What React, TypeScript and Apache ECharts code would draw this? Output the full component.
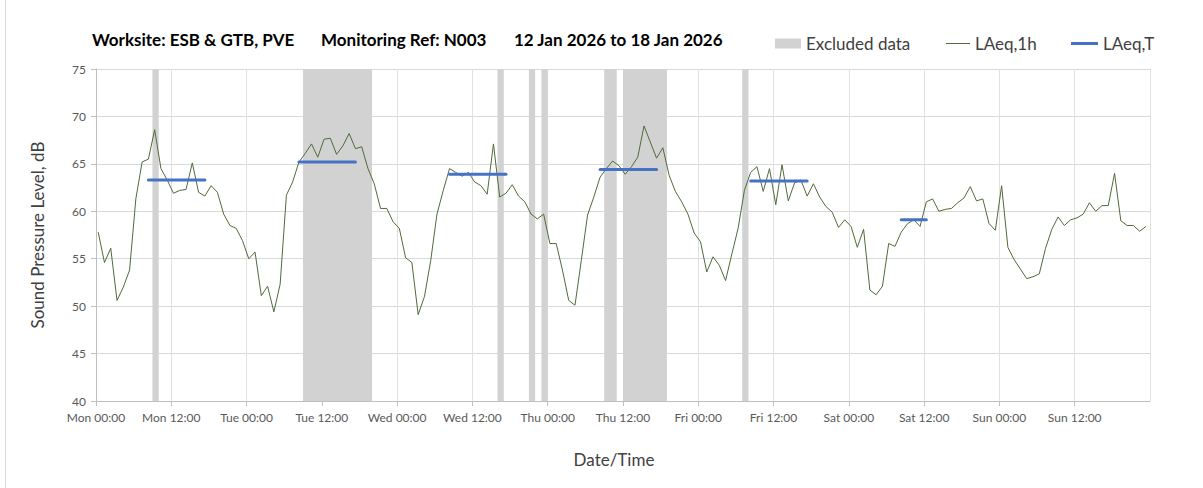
import React, { useEffect, useRef } from "react";
import * as echarts from "echarts";

// Hourly LAeq,1h values, Mon 00:00 (hour 0) to Sun 23:00 (hour 167)
const LAEQ_1H: number[] = [
  // Mon
  57.8, 54.6, 56.1, 50.6, 52.0, 53.8, 61.3, 65.2, 65.5, 68.6, 64.5, 63.3,
  61.9, 62.2, 62.3, 65.1, 62.0, 61.6, 62.7, 62.0, 59.7, 58.5, 58.2, 56.9,
  // Tue
  55.0, 55.7, 51.1, 52.1, 49.4, 52.3, 61.7, 63.1, 65.2, 66.1, 67.1, 65.7,
  67.6, 67.7, 66.0, 66.9, 68.2, 66.6, 66.8, 64.5, 62.9, 60.3, 60.3, 58.9,
  // Wed
  58.2, 55.1, 54.6, 49.1, 51.0, 54.8, 59.7, 62.2, 64.5, 64.1, 63.7, 64.1,
  63.1, 62.7, 61.8, 67.1, 61.5, 61.9, 62.8, 61.6, 61.0, 59.7, 59.2, 59.7,
  // Thu
  56.6, 56.6, 53.8, 50.6, 50.1, 54.8, 59.6, 61.5, 63.6, 64.5, 65.3, 64.8,
  63.9, 64.7, 65.7, 69.0, 67.3, 65.6, 66.7, 63.8, 62.1, 61.0, 59.7, 57.7,
  // Fri
  56.8, 53.6, 55.2, 54.3, 52.7, 55.5, 58.2, 62.2, 64.1, 64.7, 62.1, 64.5,
  60.7, 64.9, 61.1, 63.0, 63.3, 61.6, 62.9, 61.5, 60.5, 59.9, 58.3, 59.1,
  // Sat
  58.4, 56.2, 58.1, 51.7, 51.2, 52.1, 56.6, 56.3, 57.8, 58.7, 59.1, 58.4,
  61.0, 61.3, 60.0, 60.2, 60.3, 60.9, 61.4, 62.6, 61.1, 61.3, 58.7, 58.0,
  // Sun
  62.7, 56.2, 54.9, 53.9, 52.9, 53.1, 53.4, 56.1, 58.1, 59.4, 58.5, 59.1,
  59.3, 59.7, 60.9, 60.0, 60.6, 60.6, 64.0, 59.0, 58.5, 58.5, 57.9, 58.4,
];

// LAeq,T period values (start hour, end hour, level)
const LAEQ_T_START: number[] = [8, 32, 56, 80, 104, 128];
const LAEQ_T_END: number[] = [17, 41, 65, 89, 113, 132];
const LAEQ_T_VALUES: number[] = [63.3, 65.2, 63.9, 64.4, 63.2, 59.1];

// Excluded data periods (start hour, end hour)
const EXCLUDED_START: number[] = [9, 33, 64, 69, 71, 81, 84, 103];
const EXCLUDED_END: number[] = [10, 44, 65, 70, 72, 83, 91, 104];

const X_TICK_LABELS: string[] = [
  "Mon 00:00", "Mon 12:00", "Tue 00:00", "Tue 12:00", "Wed 00:00", "Wed 12:00",
  "Thu 00:00", "Thu 12:00", "Fri 00:00", "Fri 12:00", "Sat 00:00", "Sat 12:00",
  "Sun 00:00", "Sun 12:00",
];

const TITLE_PARTS: string[] = [
  "Worksite: ESB & GTB, PVE",
  "Monitoring Ref: N003",
  "12 Jan 2026 to 18 Jan 2026",
];

const POINT_OFFSET = 0.35; // position of each hourly point inside its hour slot
const FONT = "Lato, 'Noto Sans', sans-serif";

export default function App() {
  const ref = useRef<HTMLDivElement>(null);

  useEffect(() => {
    if (!ref.current) return;
    const chart = echarts.init(ref.current, undefined, { renderer: "svg" });

    const lineData = LAEQ_1H.map((v, i) => [i + POINT_OFFSET, v]);
    const bands = EXCLUDED_START.map((s, i) => [{ xAxis: s }, { xAxis: EXCLUDED_END[i] }]);

    const tSeries = LAEQ_T_VALUES.map((v, i) => ({
      name: "LAeq,T",
      type: "line",
      data: [
        [LAEQ_T_START[i] + POINT_OFFSET, v],
        [LAEQ_T_END[i] + POINT_OFFSET, v],
      ],
      showSymbol: false,
      symbol: "none",
      lineStyle: { color: "#4472c4", width: 3, cap: "round" },
      itemStyle: { color: "#4472c4" },
      z: 4,
    }));

    const titleLefts = [87, 316, 509];
    const legendText = { fontFamily: FONT, fontSize: 17, color: "#404040" };

    const option: any = {
      animation: false,
      textStyle: { fontFamily: FONT },
      title: TITLE_PARTS.map((t, i) => ({
        text: t,
        left: titleLefts[i],
        top: 26,
        textStyle: { fontFamily: FONT, fontSize: 17, fontWeight: "bold", color: "#000" },
      })),
      legend: [
        {
          data: [{ name: "Excluded data", icon: "rect", itemStyle: { color: "#d2d2d2" } }],
          left: 770,
          top: 30,
          itemWidth: 26,
          itemHeight: 10,
          textStyle: legendText,
        },
        {
          data: [{ name: "LAeq,1h", icon: "rect", itemStyle: { color: "#4f6b3a" } }],
          left: 941,
          top: 30,
          itemWidth: 24,
          itemHeight: 1,
          textStyle: legendText,
        },
        {
          data: [{ name: "LAeq,T", icon: "rect", itemStyle: { color: "#4472c4" } }],
          left: 1066,
          top: 30,
          itemWidth: 27,
          itemHeight: 3,
          textStyle: legendText,
        },
      ],
      grid: { left: 96, right: 53, top: 69, bottom: 87, containLabel: false },
      xAxis: {
        type: "value",
        min: 0,
        max: 168,
        interval: 12,
        name: "Date/Time",
        nameLocation: "middle",
        nameGap: 50,
        nameTextStyle: { fontFamily: FONT, fontSize: 17, color: "#404040", padding: [0, 18, 0, 0] },
        axisLine: { show: true, lineStyle: { color: "#bfbfbf" } },
        axisTick: { show: true, length: 5, lineStyle: { color: "#bfbfbf" } },
        axisLabel: {
          color: "#595959",
          fontSize: 12,
          margin: 10,
          showMaxLabel: false,
          formatter: (v: number) => X_TICK_LABELS[Math.round(v / 12)] ?? "",
        },
        splitLine: { show: true, lineStyle: { color: "#e0e0e0" } },
      },
      yAxis: {
        type: "value",
        min: 40,
        max: 75,
        interval: 5,
        name: "Sound Pressure Level, dB",
        nameLocation: "middle",
        nameRotate: 90,
        nameGap: 50,
        nameTextStyle: { fontFamily: FONT, fontSize: 17, color: "#404040" },
        axisLine: { show: true, lineStyle: { color: "#bfbfbf" } },
        axisTick: { show: true, length: 5, lineStyle: { color: "#bfbfbf" } },
        axisLabel: { color: "#595959", fontSize: 12, margin: 10 },
        splitLine: { show: true, lineStyle: { color: "#d9d9d9" } },
      },
      series: [
        {
          name: "Excluded data",
          type: "line",
          data: [],
          z: -1,
          itemStyle: { color: "#d2d2d2" },
          lineStyle: { color: "#d2d2d2" },
          markArea: {
            silent: true,
            itemStyle: { color: "#d2d2d2" },
            data: bands,
          },
        },
        {
          name: "LAeq,1h",
          type: "line",
          data: lineData,
          showSymbol: false,
          symbol: "none",
          lineStyle: { color: "#4f6b3a", width: 1 },
          itemStyle: { color: "#4f6b3a" },
          z: 3,
        },
        ...tSeries,
      ],
      graphic: [
        {
          type: "line",
          shape: { x1: 5.5, y1: 0, x2: 5.5, y2: 488 },
          style: { stroke: "#d9d9d9", lineWidth: 1 },
        },
      ],
    };

    chart.setOption(option);
    return () => chart.dispose();
  }, []);

  return (
    <div
      ref={ref}
      style={{ position: "absolute", left: 0, top: 0, width: 1203, height: 488, background: "#fff" }}
    />
  );
}
